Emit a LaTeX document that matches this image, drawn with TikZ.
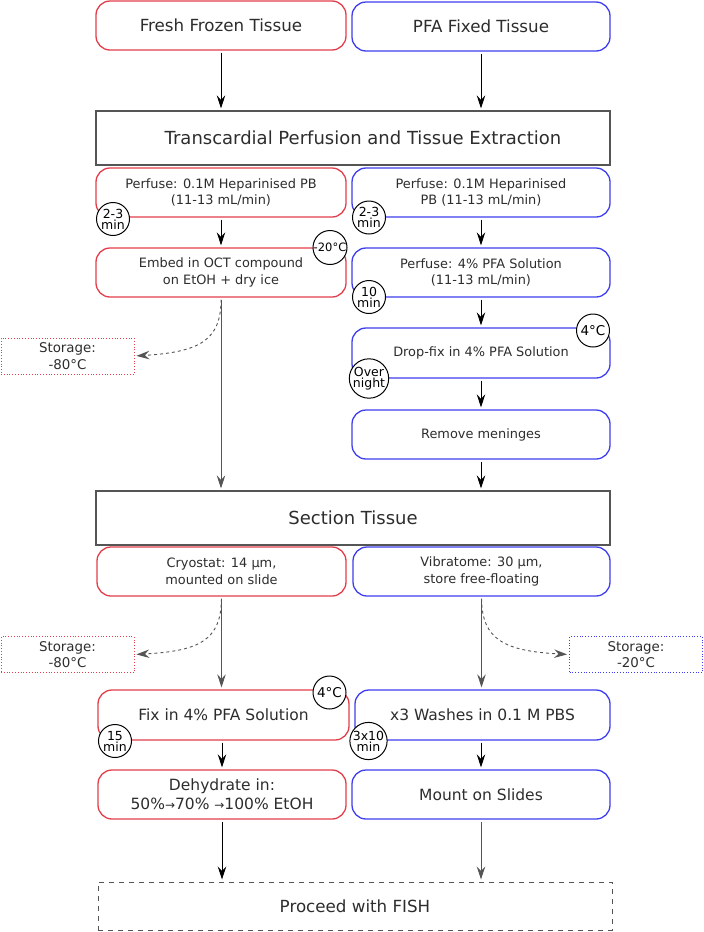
\documentclass[tikz,border=0pt]{standalone}
\usepackage{fontspec}
\setmainfont{DejaVu Sans}
\usetikzlibrary{arrows.meta}
\definecolor{rline}{RGB}{228,62,74}
\definecolor{bline}{RGB}{62,62,238}
\definecolor{txt}{RGB}{45,45,45}
\definecolor{gline}{RGB}{85,85,85}
\tikzset{
  box/.style={draw, rounded corners=14pt, line width=1.3pt, inner sep=0pt, align=center, text=txt, fill=white},
  rbox/.style={box, draw=rline},
  bbox/.style={box, draw=bline},
  wide/.style={draw=gline, line width=1.2pt, inner sep=0pt, text=txt, minimum width=514pt, minimum height=54pt},
  store/.style={inner sep=0pt, align=center, text=txt, minimum width=133pt, minimum height=36pt, font=\fontsize{13.4}{16.7}\selectfont, line width=0.8pt, dotted},
  tag/.style={circle, draw, fill=white, line width=1pt, inner sep=0pt, minimum size=33pt, align=center, font=\fontsize{12.5}{11}\selectfont},
  arr/.style={-{Stealth[length=13pt,width=8.5pt,inset=4.5pt]}, line width=0.9pt, shorten >=2pt, shorten <=2pt},
  darr/.style={arr, dashed, gline},
  sm/.style={font=\fontsize{12.9}{16.7}\selectfont},
  md/.style={font=\fontsize{15.5}{19.3}\selectfont},
}
\begin{document}
\begin{tikzpicture}[x=1pt,y=-1pt]
\useasboundingbox (0,0) rectangle (704,932);
% top
\node[rbox, minimum width=250pt, minimum height=49pt, font=\fontsize{16.7}{20}\selectfont] (fresh) at (221,25.5) {Fresh Frozen Tissue};
\node[bbox, minimum width=258pt, minimum height=49pt, font=\fontsize{16.7}{20}\selectfont] (pfa) at (481,26.5) {PFA Fixed Tissue};
\node[wide, font=\fontsize{18}{22}\selectfont] (trans) at (353,138) {\hspace*{20pt}Transcardial Perfusion and Tissue Extraction};
% red column
\node[rbox, sm, minimum width=250pt, minimum height=49pt] (pr1) at (221,192.5) {Perfuse: 0.1M Heparinised PB\\(11-13 mL/min)};
\node[rbox, sm, minimum width=250pt, minimum height=49pt] (pr2) at (221,272.5) {Embed in OCT compound\\on EtOH + dry ice};
% blue column
\node[bbox, sm, minimum width=258pt, minimum height=49pt] (pb1) at (481,192.5) {Perfuse: 0.1M Heparinised\\PB (11-13 mL/min)};
\node[bbox, sm, minimum width=258pt, minimum height=49pt] (pb2) at (481,272.5) {Perfuse: 4\% PFA Solution\\(11-13 mL/min)};
\node[bbox, sm, minimum width=258pt, minimum height=50pt] (pb3) at (481,353) {Drop-fix in 4\% PFA Solution};
\node[bbox, sm, minimum width=258pt, minimum height=49pt] (pb4) at (481,434.5) {Remove meninges};
\node[store, draw=rline] (st1) at (67.5,356) {Storage:\\-80°C};
% section
\node[wide, font=\fontsize{18}{22}\selectfont] (sect) at (353,518) {Section Tissue};
\node[rbox, sm, minimum width=249pt, minimum height=49pt] (cry) at (221.5,571.5) {Cryostat: 14 µm,\\mounted on slide};
\node[bbox, sm, minimum width=257pt, minimum height=49pt] (vib) at (481.5,571.5) {Vibratome: 30 µm,\\store free-floating};
\node[store, draw=rline] (st2) at (67.5,654.5) {Storage:\\-80°C};
\node[store, draw=bline] (st3) at (636,654.5) {Storage:\\-20°C};
\node[rbox, md, minimum width=251pt, minimum height=50pt] (fix) at (223.5,715) {Fix in 4\% PFA Solution};
\node[bbox, md, minimum width=255pt, minimum height=50pt] (wash) at (482.5,715) {x3 Washes in 0.1 M PBS};
\node[rbox, md, minimum width=248pt, minimum height=49pt] (dehyd) at (222,794.5) {Dehydrate in:\\50\%{\fontsize{12}{12}\selectfont →}70\% {\fontsize{12}{12}\selectfont →}100\% EtOH};
\node[bbox, md, minimum width=258pt, minimum height=49pt] (mount) at (481,794.5) {Mount on Slides};
\node[draw=gline, dash pattern=on 5pt off 5pt, line width=1pt, inner sep=0pt, text=txt, minimum width=514pt, minimum height=48pt, font=\fontsize{16.7}{20}\selectfont] (fish) at (355,906) {Proceed with FISH};
% tags
\node[tag] (t1) at (113,219) {2-3\\min};
\node[tag, font=\fontsize{11.5}{11.5}\selectfont, minimum size=34pt] (t2) at (330,247.5) {-20°C};
\node[tag] (t3) at (369,217.5) {2-3\\min};
\node[tag] (t4) at (369,297) {10\\min};
\node[tag, font=\fontsize{13.5}{13.5}\selectfont] (t5) at (593,330.5) {4°C};
\node[tag] (t6) at (369,378.5) {Over\\night};
\node[tag, font=\fontsize{13.5}{13.5}\selectfont] (t7) at (329.5,692.5) {4°C};
\node[tag] (t8) at (115,741) {15\\min};
\node[tag] (t9) at (368.5,741) {3x10\\min};
% arrows
\draw[arr] (fresh) -- (fresh |- trans.north);
\draw[arr] (pfa.south) -- (pfa |- trans.north);
\draw[arr] (pr1) -- (pr2);
\draw[arr] (pb1) -- (pb2);
\draw[arr] (pb2) -- (pb3);
\draw[arr] (pb3) -- (pb4);
\draw[arr] (pb4) -- (pb4 |- sect.north);
\draw[arr, gline] (pr2) -- (pr2 |- sect.north);
\draw[darr] (pr2.south) .. controls (221,340) and (200,352) .. (st1.east);
\draw[arr, gline] (cry) -- (cry |- fix.north);
\draw[darr] (cry.south) .. controls (221,640) and (200,651) .. (st2.east);
\draw[arr, gline] (vib) -- (vib |- wash.north);
\draw[darr] (vib.south) .. controls (482,640) and (505,651) .. (st3.west);
\draw[arr] (fix.south -| dehyd) -- (dehyd);
\draw[arr] (wash.south -| mount) -- (mount);
\draw[arr] (dehyd) -- (dehyd |- fish.north);
\draw[arr, gline] (mount.south) -- (mount |- fish.north);
\end{tikzpicture}
\end{document}
